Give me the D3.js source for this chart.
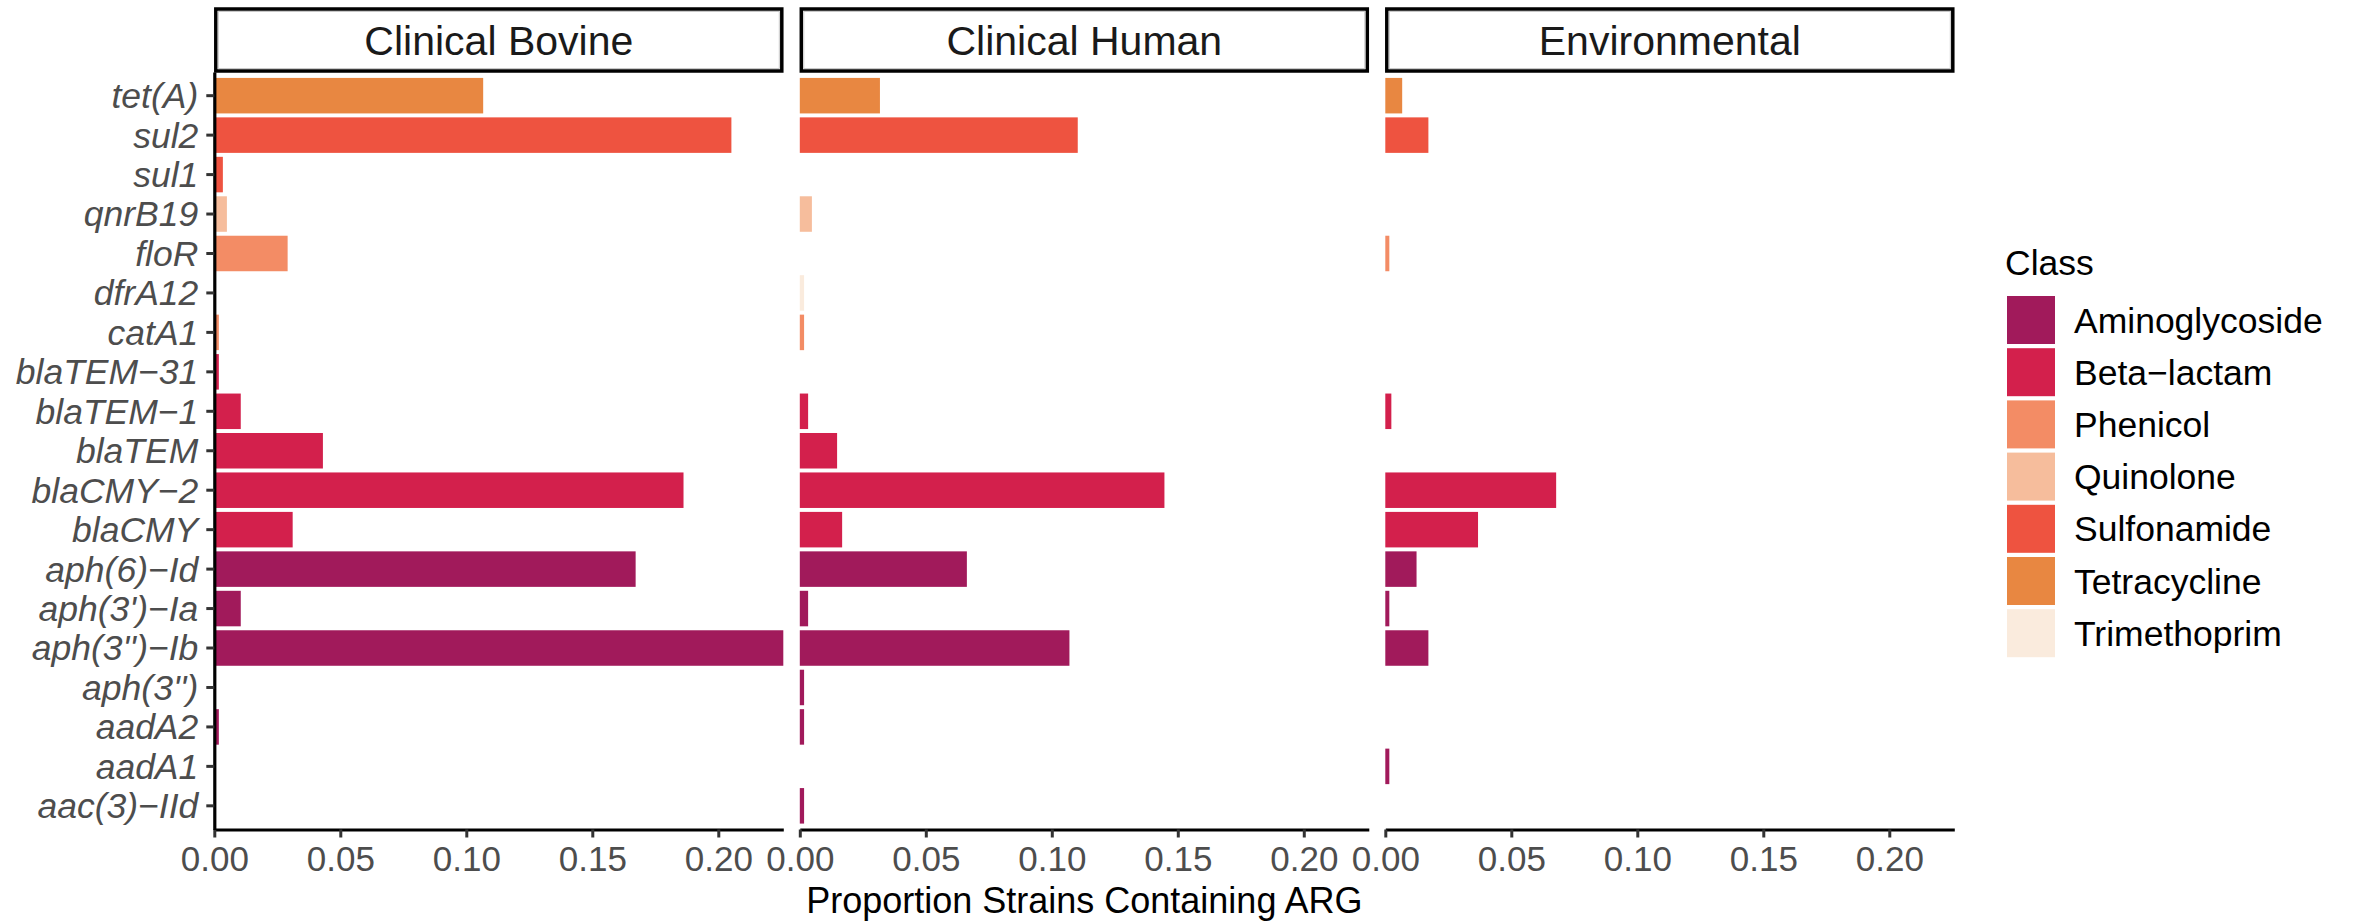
<!DOCTYPE html>
<html>
<head>
<meta charset="utf-8">
<script src="https://cdn.jsdelivr.net/npm/d3@7"></script>
<style>
  body { margin: 0; background: #fff; }
  text { font-family: "Liberation Sans", Arial, Helvetica, sans-serif; }
</style>
</head>
<body>
<div id="chart"></div>
<script>
/* ARG PROPORTIONS BY SOURCE */

var genes = ["tet(A)", "sul2", "sul1", "qnrB19", "floR", "dfrA12", "catA1",
             "blaTEM\u221231", "blaTEM\u22121", "blaTEM", "blaCMY\u22122", "blaCMY",
             "aph(6)\u2212Id", "aph(3')\u2212Ia", "aph(3'')\u2212Ib", "aph(3'')",
             "aadA2", "aadA1", "aac(3)\u2212IId"];

var geneClass = ["Tetracycline", "Sulfonamide", "Sulfonamide", "Quinolone", "Phenicol",
                 "Trimethoprim", "Phenicol", "Beta\u2212lactam", "Beta\u2212lactam",
                 "Beta\u2212lactam", "Beta\u2212lactam", "Beta\u2212lactam",
                 "Aminoglycoside", "Aminoglycoside", "Aminoglycoside", "Aminoglycoside",
                 "Aminoglycoside", "Aminoglycoside", "Aminoglycoside"];

var clinicalBovine = [0.1067, 0.2052, 0.0034, 0.0050, 0.0291, 0, 0.0018,
                      0.0018, 0.0105, 0.0431, 0.1862, 0.0311,
                      0.1672, 0.0105, 0.2258, 0, 0.0018, 0, 0];

var clinicalHuman = [0.0318, 0.1103, 0, 0.0048, 0, 0.0017, 0.0017,
                     0, 0.0033, 0.0148, 0.1447, 0.0168,
                     0.0663, 0.0033, 0.1070, 0.0017, 0.0017, 0, 0.0017];

var environmental = [0.0067, 0.0171, 0, 0, 0.0016, 0, 0,
                     0, 0.0024, 0, 0.0678, 0.0368,
                     0.0124, 0.0016, 0.0171, 0, 0, 0.0016, 0];

var panelNames = ["Clinical Bovine", "Clinical Human", "Environmental"];
var panelValues = [clinicalBovine, clinicalHuman, environmental];

var classes = ["Aminoglycoside", "Beta\u2212lactam", "Phenicol", "Quinolone",
               "Sulfonamide", "Tetracycline", "Trimethoprim"];
var classColors = ["#A11A5B", "#D3204C", "#F38C65", "#F6BD9C", "#EE5340", "#E88741", "#FAEBDD"];

var xTicks = [0, 0.05, 0.10, 0.15, 0.20];
var xMax = 0.2258;

function drawChart(){

  var w = 2354;
  var h = 921;

  var panelTop = 72;
  var panelBottom = 829.5;
  var panelLeft = 214.3;
  var panelW = 569;
  var panelGap = 16.5;

  var svg = d3.select("#chart").append("svg")
              .attr("width", w)
              .attr("height", h);

  var x = d3.scaleLinear().domain([0, xMax]).range([0, panelW]);

  var y = d3.scaleBand()
            .domain(genes)
            .range([panelTop, panelBottom])
            .paddingInner(0.1)
            .paddingOuter(0.15);

  var color = d3.scaleOrdinal().domain(classes).range(classColors);

  panelNames.forEach(function(name, p){

    var px = panelLeft + p * (panelW + panelGap);
    var g = svg.append("g").attr("transform", "translate(" + px + ",0)");

    var rows = genes.map(function(gene, i){
      return {gene: gene, cls: geneClass[i], value: panelValues[p][i]};
    }).filter(function(d){ return d.value > 0; });

    g.selectAll("rect.bar")
     .data(rows)
     .enter().append("rect")
     .attr("class", "bar")
     .attr("x", x(0))
     .attr("y", function(d){ return y(d.gene); })
     .attr("width", function(d){ return x(d.value); })
     .attr("height", y.bandwidth())
     .style("fill", function(d){ return color(d.cls); });

    // strip
    g.append("rect")
     .attr("x", 1.5).attr("y", 9)
     .attr("width", panelW - 3).attr("height", 62)
     .style("fill", "#fff")
     .style("stroke", "#000")
     .style("stroke-width", 3.5);

    g.append("rect")
     .attr("x", 4).attr("y", 11.5)
     .attr("width", panelW - 8).attr("height", 57)
     .style("fill", "none")
     .style("stroke", "#c8c8c8")
     .style("stroke-width", 1);

    g.append("text")
     .attr("x", panelW / 2)
     .attr("y", 54.5)
     .attr("text-anchor", "middle")
     .style("font-size", "41px")
     .style("fill", "#1a1a1a")
     .text(name);

    // x axis
    var xAxis = g.append("g")
                 .attr("transform", "translate(0," + panelBottom + ")")
                 .call(d3.axisBottom(x)
                         .tickValues(xTicks)
                         .tickFormat(d3.format(".2f"))
                         .tickSizeOuter(0)
                         .tickSizeInner(8)
                         .tickPadding(8.5));

    xAxis.select(".domain").style("stroke", "#000").style("stroke-width", 3.2);
    xAxis.selectAll(".tick line").style("stroke", "#333").style("stroke-width", 3);
    xAxis.selectAll(".tick text")
         .style("font-size", "35px")
         .style("fill", "#4D4D4D")
         .style("font-family", "'Liberation Sans', Arial, sans-serif");

    if (p === 0) {
      var yAxis = g.append("g")
                   .call(d3.axisLeft(y).tickSizeOuter(0).tickSizeInner(8).tickPadding(8));
      yAxis.select(".domain").style("stroke", "#000").style("stroke-width", 3.2);
      yAxis.selectAll(".tick line").style("stroke", "#333").style("stroke-width", 3);
      yAxis.selectAll(".tick text")
           .attr("dy", "0.35em")
           .style("font-size", "35.5px")
           .style("font-style", "italic")
           .style("fill", "#4D4D4D")
           .style("font-family", "'Liberation Sans', Arial, sans-serif");
    }
  });

  // x axis title
  svg.append("text")
     .attr("x", panelLeft + (3 * panelW + 2 * panelGap) / 2)
     .attr("y", 913)
     .attr("text-anchor", "middle")
     .style("font-size", "36px")
     .style("fill", "#000")
     .text("Proportion Strains Containing ARG");

  // legend
  var legend = svg.append("g").attr("transform", "translate(2007,0)");

  legend.append("text")
        .attr("x", -2)
        .attr("y", 275)
        .style("font-size", "35.5px")
        .style("fill", "#000")
        .text("Class");

  var items = legend.selectAll("g.item")
                    .data(classes)
                    .enter().append("g")
                    .attr("class", "item")
                    .attr("transform", function(d, i){ return "translate(0," + (296 + i * 52.2) + ")"; });

  items.append("rect")
       .attr("width", 48)
       .attr("height", 48)
       .style("fill", function(d){ return color(d); });

  items.append("text")
       .attr("x", 67)
       .attr("y", 36.5)
       .style("font-size", "35.5px")
       .style("fill", "#000")
       .text(function(d){ return d; });

};

drawChart();
</script>
</body>
</html>
